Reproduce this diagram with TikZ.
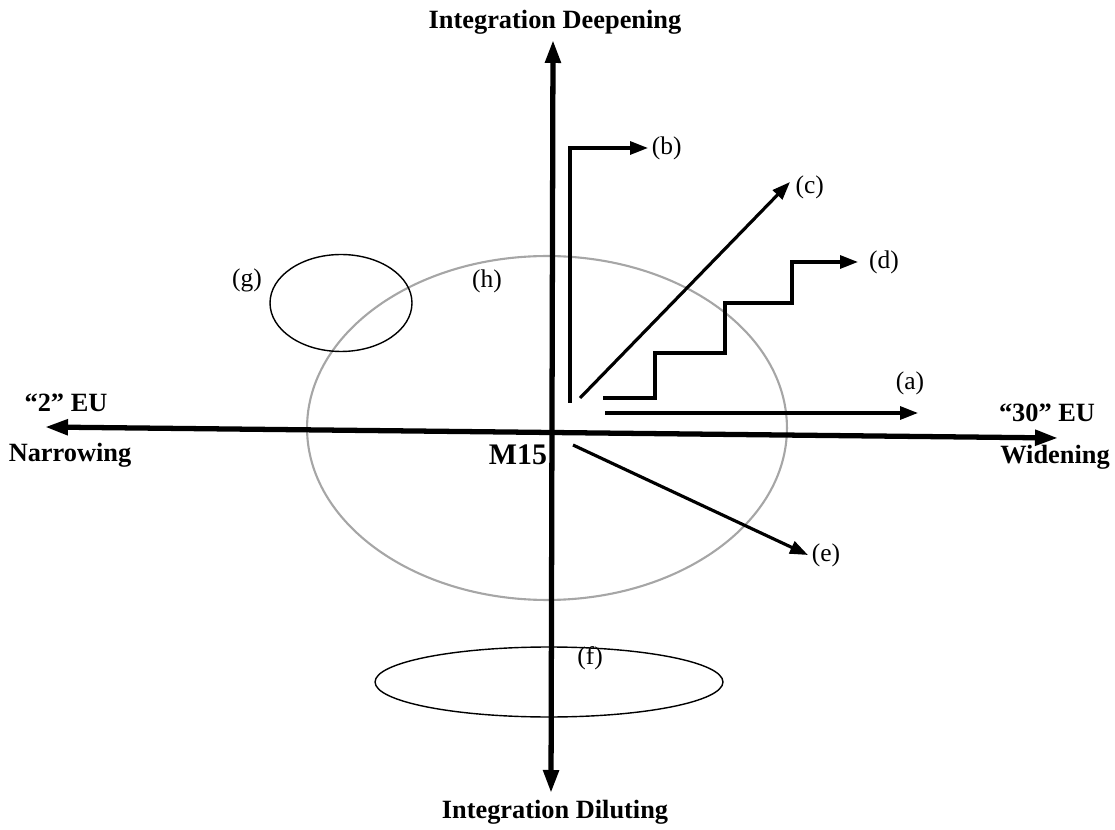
\documentclass[tikz,border=0pt]{standalone}
\usepackage{fontspec}
\setmainfont{Liberation Serif}
\usetikzlibrary{arrows.meta, positioning, shapes.geometric}

\begin{document}
\begin{tikzpicture}[
		x=0.02cm, y=-0.02cm,
		axis/.style={line width=3pt, {Triangle[length=4.6mm, width=3mm]}-{Triangle[length=4.6mm, width=3mm]}},
		arrow/.style={line width=1.8pt, -{Triangle[length=3.6mm, width=2.6mm]}},
		axislabel/.style={font=\fontsize{15}{18}\selectfont\bfseries, inner sep=0pt},
		lbl/.style={font=\fontsize{14.5}{17}\selectfont, inner sep=1pt},
		region/.style={draw, ellipse, line width=0.8pt, inner sep=0pt}
	]
	\useasboundingbox (0,0) rectangle (1115,830);

	% Regions
	\node[region, draw=gray!70, line width=1.2pt, minimum width=9.6cm, minimum height=6.88cm] (h) at (547,428) {};
	\node[region, minimum width=2.84cm, minimum height=1.94cm] (g) at (341,303) {};
	\node[region, minimum width=6.96cm, minimum height=1.4cm] (f) at (549,682) {};
	\node[lbl] (hlbl) at (487,281) {(h)};
	\node[lbl] (glbl) at (247,280) {(g)};
	\node[lbl] (flbl) at (590,658) {(f)};

	% Axes
	\coordinate (top) at (553,40);
	\coordinate (bottom) at (551,793);
	\coordinate (left) at (45,427);
	\coordinate (right) at (1058,438);
	\draw[axis] (top) -- (bottom);
	\draw[axis] (left) -- (right);

	\node[axislabel] (deep) at (555,22) {Integration Deepening};
	\node[axislabel] (dilute) at (555,812) {Integration Diluting};
	\node[axislabel] (two) at (66,403) {“2” EU};
	\node[axislabel] (narrow) at (70,455) {Narrowing};
	\node[axislabel] (thirty) at (1047,413) {“30” EU};
	\node[axislabel] (widen) at (1055,457) {Widening};
	\node[font=\fontsize{17}{20}\selectfont\bfseries, inner sep=0pt] (m15) at (518,455) {M15};

	% Paths
	\coordinate (astart) at (605,413);
	\coordinate (atip) at (918,413);
	\coordinate (bstart) at (570,403);
	\coordinate (btip) at (648,148);
	\coordinate (cstart) at (580,398);
	\coordinate (ctip) at (790,182);
	\coordinate (dstart) at (603,398);
	\coordinate (dtip) at (858,262);
	\coordinate (estart) at (573,445);
	\coordinate (etip) at (808,555);

	\draw[arrow] (astart) -- (atip);
	\draw[arrow] (bstart) |- (btip);
	\draw[arrow] (cstart) -- (ctip);
	\draw[arrow] (dstart) -| (655,353) -| (725,303) -| (792,262) -- (dtip);
	\draw[arrow] (estart) -- (etip);

	\node[lbl] (a) at (910,383) {(a)};
	\node[lbl, right=1pt of btip] (b) {(b)};
	\node[lbl, right=2pt of ctip, yshift=-0.1cm] (c) {(c)};
	\node[lbl, right=0.18cm of dtip] (d) {(d)};
	\node[lbl, right=1pt of etip] (e) {(e)};
\end{tikzpicture}
\end{document}
